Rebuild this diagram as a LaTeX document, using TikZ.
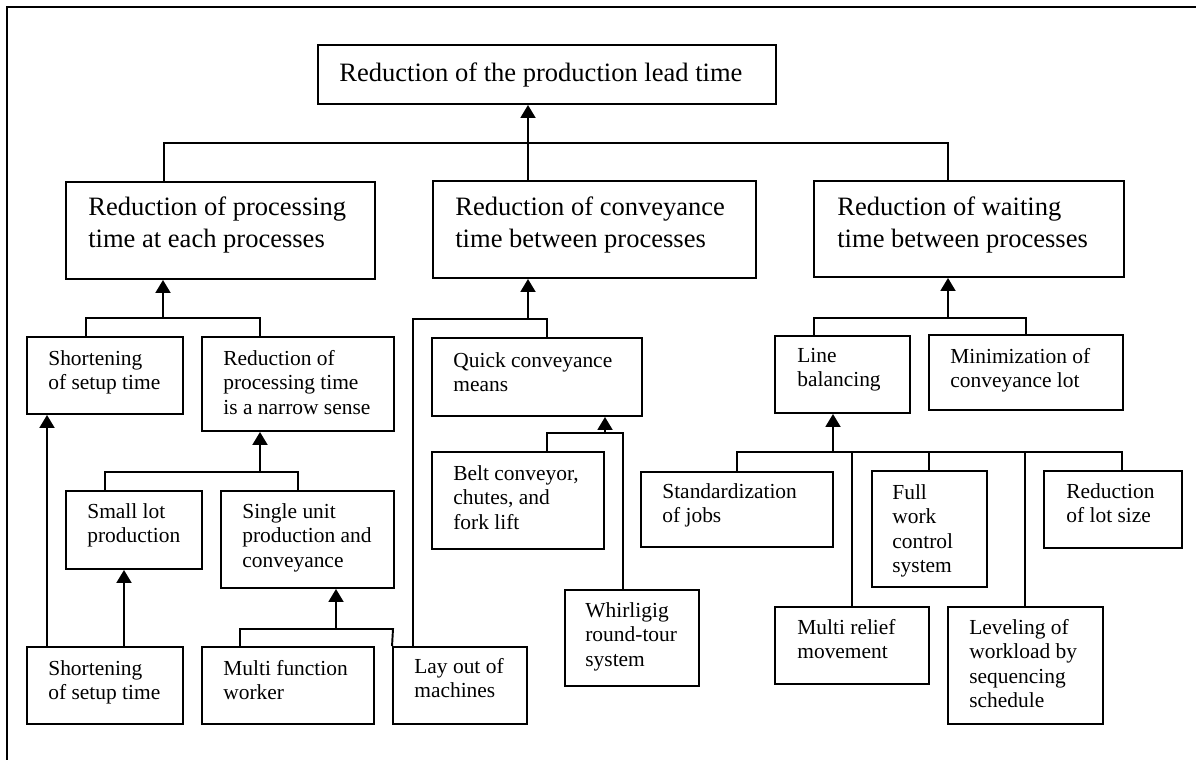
\documentclass[tikz,border=0pt]{standalone}
\usepackage{fontspec}
\setmainfont{Liberation Serif}
\usetikzlibrary{arrows.meta,fit}

\tikzset{
  conn/.style={line width=1.1pt, line join=miter},
  arr/.style={conn, -{Triangle[width=0.3cm,length=0.26cm]}},
  box/.style={draw, line width=1.1pt, inner sep=0pt, rectangle},
  bigtext/.style={anchor=north west, align=left, inner sep=0pt,
    font=\fontsize{15.1}{18.7}\selectfont},
  smalltext/.style={anchor=north west, align=left, inner sep=0pt,
    font=\fontsize{12.2}{13.9}\selectfont},
}

\begin{document}
\begin{tikzpicture}[x=0.02cm, y=-0.02cm]
\useasboundingbox (0,0) rectangle (1196,760);

% frame lines
\draw[conn] (7,760) -- (7,7) -- (1196,7);

% ---- boxes ----
\node[box, fit={(318,45) (776,104)}] (top) {};
\node[box, fit={(66,182) (375,279)}] (A) {};
\node[box, fit={(433,181) (756,278)}] (B) {};
\node[box, fit={(814,181) (1124,277)}] (C) {};

\node[box, fit={(27,337) (183,414)}] (S1) {};
\node[box, fit={(202,337) (394,431)}] (N) {};
\node[box, fit={(66,491) (202,569)}] (SL) {};
\node[box, fit={(221,491) (394,588)}] (SU) {};
\node[box, fit={(27,647) (183,724)}] (S2) {};
\node[box, fit={(202,647) (374,724)}] (MF) {};
\node[box, fit={(393,647) (527,724)}] (LO) {};

\node[box, fit={(432,338) (642,416)}] (Q) {};
\node[box, fit={(432,452) (604,549)}] (BC) {};
\node[box, fit={(565,590) (699,686)}] (W) {};

\node[box, fit={(775,336) (910,413)}] (LB) {};
\node[box, fit={(929,335) (1123,410)}] (MC) {};
\node[box, fit={(641,472) (833,547)}] (ST) {};
\node[box, fit={(872,471) (987,587)}] (FW) {};
\node[box, fit={(1044,471) (1182,548)}] (RL) {};
\node[box, fit={(775,607) (929,684)}] (MR) {};
\node[box, fit={(948,607) (1103,724)}] (LV) {};

% ---- texts ----
\node[bigtext] (top-t) at (339,62) {Reduction of the production lead time};
\node[bigtext] (A-t) at (88,196) {Reduction of processing\\time at each processes};
\node[bigtext] (B-t) at (455,196) {Reduction of conveyance\\time between processes};
\node[bigtext] (C-t) at (837,196) {Reduction of waiting\\time between processes};

\node[smalltext] (S1-t) at (48,350) {Shortening\\of setup time};
\node[smalltext] (N-t) at (223,350) {Reduction of\\processing time\\is a narrow sense};
\node[smalltext] (SL-t) at (87,503) {Small lot\\production};
\node[smalltext] (SU-t) at (242,503) {Single unit\\production and\\conveyance};
\node[smalltext] (S2-t) at (48,660) {Shortening\\of setup time};
\node[smalltext] (MF-t) at (223,660) {Multi function\\worker};
\node[smalltext] (LO-t) at (414,658) {Lay out of\\machines};

\node[smalltext] (Q-t) at (453,352) {Quick conveyance\\means};
\node[smalltext] (BC-t) at (453,465) {Belt conveyor,\\chutes, and\\fork lift};
\node[smalltext] (W-t) at (585,602) {Whirligig\\round-tour\\system};

\node[smalltext] (LB-t) at (797,348) {Line\\balancing};
\node[smalltext] (MC-t) at (950,348) {Minimization of\\conveyance lot};
\node[smalltext] (ST-t) at (662,483) {Standardization\\of jobs};
\node[smalltext] (FW-t) at (892,484) {Full\\work\\control\\system};
\node[smalltext] (RL-t) at (1066,483) {Reduction\\of lot size};
\node[smalltext] (MR-t) at (797,619) {Multi relief\\movement};
\node[smalltext] (LV-t) at (969,619) {Leveling of\\workload by\\sequencing\\schedule};

% ---- junction points ----
\coordinate (b0l) at (164,143); \coordinate (b0m) at (528,143); \coordinate (b0r) at (948,143);
\coordinate (b1l) at (86,318);  \coordinate (b1m) at (163,318); \coordinate (b1r) at (260,318);
\coordinate (b2l) at (105,472); \coordinate (b2m) at (260,472); \coordinate (b2r) at (298,472);
\coordinate (c1) at (47,600);   \coordinate (c2) at (124,600);
\coordinate (b3l) at (240,629); \coordinate (b3m) at (336,629); \coordinate (b3r) at (393,629);
\coordinate (b4l) at (413,319); \coordinate (b4m) at (528,319); \coordinate (b4r) at (547,319);
\coordinate (b5l) at (547,433); \coordinate (b5m) at (605,433); \coordinate (b5r) at (623,433);
\coordinate (b6l) at (814,318); \coordinate (b6m) at (948,318); \coordinate (b6r) at (1026,318);
\coordinate (b7a) at (737,452); \coordinate (b7m) at (833,452); \coordinate (b7b) at (852,452);
\coordinate (b7c) at (929,452); \coordinate (b7d) at (1025,452); \coordinate (b7e) at (1122,452);

% ---- connectors ----
\draw[conn] (A.north -| b0l) -- (b0l) -- (b0r) -- (C.north -| b0r);
\draw[arr] (B.north -| b0m) -- (top.south -| b0m);

\draw[conn] (S1.north -| b1l) -- (b1l) -- (b1r) -- (N.north -| b1r);
\draw[arr] (b1m) -- (A.south -| b1m);

\draw[conn] (SL.north -| b2l) -- (b2l) -- (b2r) -- (SU.north -| b2r);
\draw[arr] (b2m) -- (N.south -| b2m);

\draw[arr] (S2.north -| c1) -- (S1.south -| c1);
\draw[arr] (S2.north -| c2) -- (SL.south -| c2);

\draw[conn] (MF.north -| b3l) -- (b3l) -- (b3r) -- (LO.north west);
\draw[arr] (b3m) -- (SU.south -| b3m);

\draw[conn] (LO.north -| b4l) -- (b4l) -- (b4r) -- (Q.north -| b4r);
\draw[arr] (b4m) -- (B.south -| b4m);

\draw[conn] (BC.north -| b5l) -- (b5l) -- (b5r) -- (W.north -| b5r);
\draw[arr] (b5m) -- (Q.south -| b5m);

\draw[conn] (LB.north -| b6l) -- (b6l) -- (b6r) -- (MC.north -| b6r);
\draw[arr] (b6m) -- (C.south -| b6m);

\draw[conn] (ST.north -| b7a) -- (b7a) -- (b7e) -- (RL.north -| b7e);
\draw[conn] (b7b) -- (MR.north -| b7b);
\draw[conn] (b7c) -- (FW.north -| b7c);
\draw[conn] (b7d) -- (LV.north -| b7d);
\draw[arr] (b7m) -- (LB.south -| b7m);
\end{tikzpicture}
\end{document}
